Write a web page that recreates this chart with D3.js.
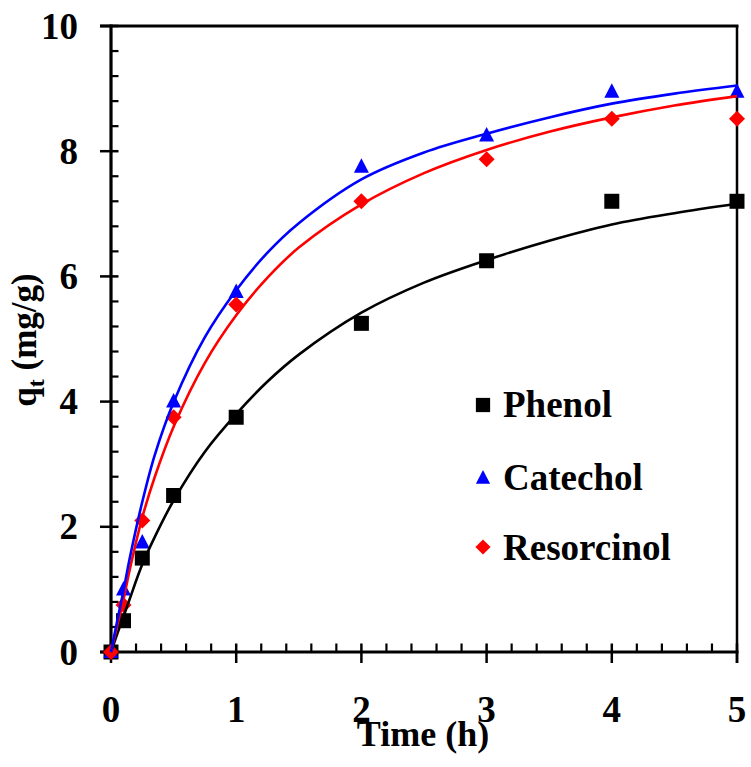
<!DOCTYPE html>
<html>
<head>
<meta charset="utf-8">
<script src="https://cdn.jsdelivr.net/npm/d3@7"></script>
<style>
  html, body { margin: 0; padding: 0; background: #fff; }
  svg { display: block; }
</style>
</head>
<body>
<svg id="chart" width="751" height="767"></svg>
<script>
// ---- Data ----
const times = [0, 0.1, 0.25, 0.5, 1, 2, 3, 4, 5];
const phenol = [0, 0.5, 1.5, 2.5, 3.75, 5.25, 6.25, 7.2, 7.2];
const catechol = [0, 1.0, 1.75, 4.0, 5.75, 7.75, 8.25, 8.95, 8.95];
const resorcinol = [0, 0.75, 2.1, 3.75, 5.55, 7.2, 7.87, 8.52, 8.52];

// fitted curves
const fitTimes = [0, 0.05, 0.1, 0.15, 0.25, 0.35, 0.5, 0.75, 1, 1.25, 1.5, 2, 2.5, 3, 3.5, 4, 4.5, 5];
const phenolFit = [0, 0.29, 0.57, 0.85, 1.40, 1.84, 2.42, 3.20, 3.80, 4.32, 4.75, 5.42, 5.90, 6.26, 6.57, 6.83, 7.01, 7.16];
const catecholFit = [0, 0.50, 0.98, 1.50, 2.40, 3.15, 3.99, 5.03, 5.78, 6.38, 6.85, 7.55, 7.98, 8.28, 8.54, 8.76, 8.92, 9.05];
const resorcinolFit = [0, 0.42, 0.84, 1.32, 2.15, 2.80, 3.60, 4.62, 5.38, 5.98, 6.46, 7.15, 7.65, 8.02, 8.31, 8.54, 8.73, 8.88];

const xTicks = [0, 1, 2, 3, 4, 5];
const yTicks = [0, 2, 4, 6, 8, 10];
const seriesNames = ["Phenol", "Catechol", "Resorcinol"];

// ---- Layout ----
const FONT = "'Liberation Serif', Tinos, 'Times New Roman', 'DejaVu Serif', serif";
const svg = d3.select("#chart");
const pL = 111, pR = 737, pT = 26, pB = 652;
const x = d3.scaleLinear().domain([0, 5]).range([pL, pR]);
const y = d3.scaleLinear().domain([0, 10]).range([pB, pT]);

const series = [
  { name: seriesNames[0], vals: phenol, fit: phenolFit, color: "#000000", shape: "square" },
  { name: seriesNames[1], vals: catechol, fit: catecholFit, color: "#0000ff", shape: "triangle" },
  { name: seriesNames[2], vals: resorcinol, fit: resorcinolFit, color: "#ff0000", shape: "diamond" }
];

function markerPath(shape) {
  if (shape === "square") return "M-7.5,-7.5H7.5V7.5H-7.5Z";
  if (shape === "triangle") return "M0,-8.5L7.5,6L-7.5,6Z";
  return "M0,-8L8,0L0,8L-8,0Z";
}
function txt(sel, size) {
  return sel.attr("font-family", FONT).attr("font-weight", "bold")
    .attr("font-size", size).attr("fill", "#000");
}

// ---- Axes ----
const axisG = svg.append("g").attr("stroke", "#000").attr("fill", "none");
axisG.append("line").attr("x1", pL).attr("x2", pL).attr("y1", pT - 1.5).attr("y2", pB + 1.5).attr("stroke-width", 3.2);
axisG.append("line").attr("x1", pL - 11).attr("x2", pR + 1.5).attr("y1", pT).attr("y2", pT).attr("stroke-width", 3);
axisG.append("line").attr("x1", pR).attr("x2", pR).attr("y1", pT).attr("y2", pB + 11).attr("stroke-width", 2.5);
axisG.append("line").attr("x1", pL - 11).attr("x2", pR + 1.5).attr("y1", pB).attr("y2", pB).attr("stroke-width", 3.2);

const yMinor = d3.range(0, 10.0001, 0.4).filter(v => Math.abs(v / 2 - Math.round(v / 2)) > 1e-6);
axisG.selectAll(".ymin").data(yMinor).enter().append("line")
  .attr("x1", pL).attr("x2", pL + 7.5).attr("y1", d => y(d)).attr("y2", d => y(d)).attr("stroke-width", 2.2);
axisG.selectAll(".ymaj").data(yTicks).enter().append("line")
  .attr("x1", pL - 11).attr("x2", pL + 7.5).attr("y1", d => y(d)).attr("y2", d => y(d)).attr("stroke-width", 2.5);

const xMinor = d3.range(0, 5.0001, 0.2).filter(v => Math.abs(v - Math.round(v)) > 1e-6);
axisG.selectAll(".xmin").data(xMinor).enter().append("line")
  .attr("x1", d => x(d)).attr("x2", d => x(d)).attr("y1", pB).attr("y2", pB - 8.5).attr("stroke-width", 2.2);
axisG.selectAll(".xmaj").data(xTicks).enter().append("line")
  .attr("x1", d => x(d)).attr("x2", d => x(d)).attr("y1", pB - 8.5).attr("y2", pB + 11).attr("stroke-width", 2.5);

txt(svg.selectAll(".ylab").data(yTicks).enter().append("text"), 37)
  .attr("x", 78).attr("y", d => y(d)).attr("dy", "0.34em")
  .attr("text-anchor", "end").text(d => d);
txt(svg.selectAll(".xlab").data(xTicks).enter().append("text"), 37)
  .attr("x", d => x(d)).attr("y", 722)
  .attr("text-anchor", "middle").text(d => d);

txt(svg.append("text"), 36).attr("x", 423).attr("y", 746).attr("text-anchor", "middle").text("Time (h)");
const yt = txt(svg.append("text"), 35).attr("transform", "translate(36,340) rotate(-90)")
  .attr("text-anchor", "middle");
yt.append("tspan").text("q");
yt.append("tspan").attr("dy", 8).attr("font-size", 24).text("t");
yt.append("tspan").attr("dy", -8).text(" (mg/g)");

// ---- Markers ----
series.forEach(s => {
  svg.append("g").selectAll("path").data(times.map((t, i) => [t, s.vals[i]])).enter().append("path")
    .attr("d", markerPath(s.shape))
    .attr("transform", d => `translate(${x(d[0])},${y(d[1])})`)
    .attr("fill", s.color);
});

// ---- Fitted curves ----
const line = d3.line().x(d => x(d[0])).y(d => y(d[1])).curve(d3.curveCatmullRom.alpha(0.5));
[series[0], series[2], series[1]].forEach(s => {
  svg.append("path").datum(fitTimes.map((t, i) => [t, s.fit[i]]))
    .attr("d", line).attr("fill", "none").attr("stroke", s.color).attr("stroke-width", 2.6);
});

// ---- Legend ----
const legY = [405, 478, 547];
const legBase = [417, 490, 560];
series.forEach((s, i) => {
  svg.append("path").attr("d", markerPath(s.shape))
    .attr("transform", `translate(483,${legY[i]}) scale(0.95)`).attr("fill", s.color);
  txt(svg.append("text"), 37).attr("x", 503).attr("y", legBase[i]).text(s.name);
});
</script>
</body>
</html>
